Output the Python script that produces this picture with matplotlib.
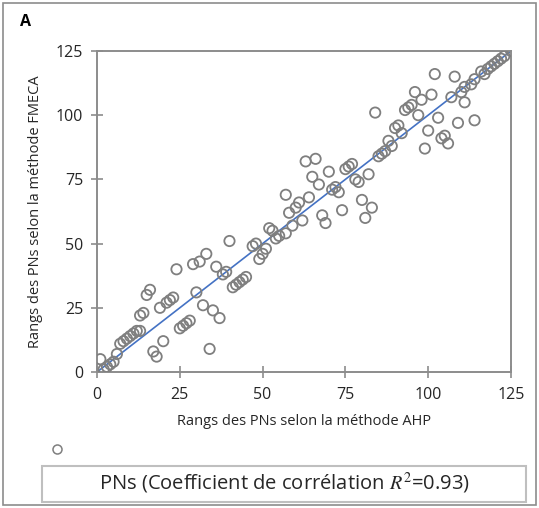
import matplotlib.pyplot as plt
from matplotlib.patches import Rectangle
from matplotlib.lines import Line2D

plt.rcParams['font.family'] = ['Open Sans', 'DejaVu Sans']
plt.rcParams['mathtext.fontset'] = 'stix'

# ranks of the PNs: AHP method (x) vs FMECA method (y)
ahp_rank = [1, 2, 3, 4, 5, 6, 7, 8, 9, 10, 11, 12, 13,
            13, 14, 15, 16, 17, 18, 20, 19, 21, 22, 23, 24,
            25, 26, 27, 28, 29, 31, 33, 30, 32, 35, 37, 34,
            36, 38, 39, 40, 41, 42, 43, 44, 45, 47, 48,
            49, 50, 51, 52, 53, 54, 55, 57, 57, 58, 60, 61, 64,
            59, 62, 63, 66, 65, 67, 70, 68, 69, 71, 72, 73,
            75, 76, 77, 74, 78, 79, 82, 80, 83, 81, 84,
            85, 86, 87, 88, 89, 90, 91, 92, 93, 94, 95, 96, 98,
            97, 99, 100, 101, 102, 103, 104, 105, 106, 107, 108,
            109, 110, 111, 114, 111, 113, 114, 116, 117, 118, 119,
            120, 121, 122, 123, 125]
fmeca_rank = [5, 1, 2, 3, 4, 7, 11, 12, 13, 14, 15, 16, 16,
              22, 23, 30, 32, 8, 6, 12, 25, 27, 28, 29, 40,
              17, 18, 19, 20, 42, 43, 46, 31, 26, 24, 21, 9,
              41, 38, 39, 51, 33, 34, 35, 36, 37, 49, 50,
              44, 46, 48, 56, 55, 52, 53, 54, 69, 62, 64, 66, 68,
              57, 59, 82, 83, 76, 73, 78, 61, 58, 71, 72, 70,
              79, 80, 81, 63, 75, 74, 77, 67, 64, 60, 101,
              84, 85, 86, 90, 88, 95, 96, 93, 102, 103, 104, 109, 106,
              100, 87, 94, 108, 116, 99, 91, 92, 89, 107, 115,
              97, 109, 105, 98, 111, 112, 114, 117, 116, 118, 119,
              120, 121, 122, 123, 125]
line_x = [0, 125]
line_y = [0, 125]
ticks = [0, 25, 50, 75, 100, 125]

fig = plt.figure(figsize=(5.39, 5.08), dpi=100)
ax = fig.add_axes([0.18, 0.2677, 0.768, 0.632])

ax.scatter(ahp_rank, fmeca_rank, s=55, facecolors='none',
           edgecolors='#7f7f7f', linewidths=1.3, zorder=3)
ax.plot(line_x, line_y, color='#4472C4', lw=1.2, zorder=2)

ax.set_xlim(0, 125)
ax.set_ylim(0, 125)
ax.set_xticks(ticks)
ax.set_yticks(ticks)
for s in ax.spines.values():
    s.set_color('#8c8c8c')
    s.set_linewidth(1.4)
ax.tick_params(direction='inout', length=8, width=1.2, color='#8c8c8c',
               labelsize=11.5, labelcolor='#262626', pad=7)
ax.tick_params(axis='y', pad=6)
ax.set_xlabel('Rangs des PNs selon la méthode AHP', fontsize=10.5,
              color='#262626', labelpad=8)
ax.set_ylabel('Rangs des PNs selon la méthode FMECA', fontsize=10.5,
              color='#262626', labelpad=9)

# figure frame, panel letter and legend
fig.add_artist(Rectangle((0.005, 0.005), 0.99, 0.99, transform=fig.transFigure,
                         fill=False, ec='#8c8c8c', lw=1.2))
fig.text(0.038, 0.957, 'A', fontsize=11.5, fontweight='bold', va='center')
fig.add_artist(Line2D([0.106], [0.116], marker='o', ms=6.5, mfc='none',
                      mec='#7f7f7f', mew=1.1, transform=fig.transFigure))
fig.add_artist(Rectangle((0.078, 0.012), 0.898, 0.071, transform=fig.transFigure,
                         fill=False, ec='#bfbfbf', lw=1.5))
fig.text(0.527, 0.048, 'PNs (Coefficient de corrélation $R^2$=0.93)',
         fontsize=14.5, ha='center', va='center', color='#262626')

fig.savefig('out.png', dpi=100)
